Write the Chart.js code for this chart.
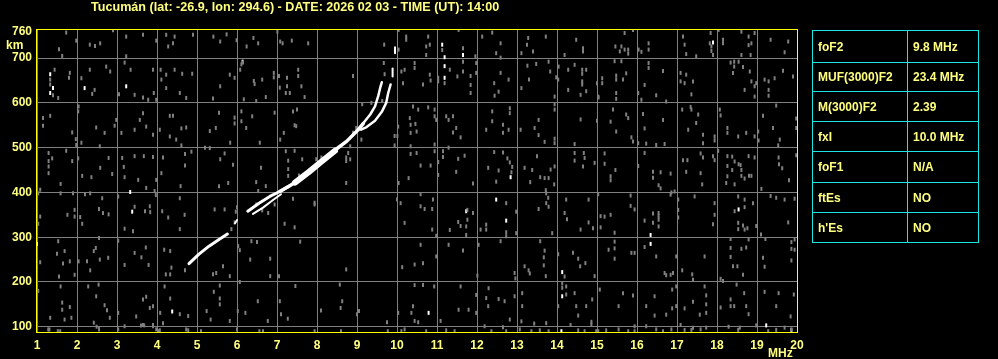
<!DOCTYPE html>
<html>
<head>
<meta charset="utf-8">
<script src="https://cdn.jsdelivr.net/npm/chart.js@4.4.1/dist/chart.umd.min.js"></script>
<style>
  html,body{margin:0;padding:0;background:#000;width:998px;height:359px;overflow:hidden;}
  #wrap{position:relative;width:998px;height:359px;}
  canvas{position:absolute;left:0;top:0;}
  table{position:absolute;left:812px;top:30px;border-collapse:collapse;
        font:bold 12px "Liberation Sans",Arial,sans-serif;color:#ffff80;}
  td{border:1px solid #18e6e6;padding:0 0 0 5px;vertical-align:middle;white-space:nowrap;box-sizing:border-box;}
  td.k{width:95px;} td.v{width:71px;}
</style>
</head>
<body>
<div id="wrap">
<canvas id="c" width="998" height="359"></canvas>
<table id="params"></table>
</div>
<script>
// ---------- data ----------
const titleText = "Tucumán (lat: -26.9, lon: 294.6) - DATE: 2026 02 03 - TIME (UT): 14:00";
const xTicks = [1,2,3,4,5,6,7,8,9,10,11,12,13,14,15,16,17,18,19,20];
const yTicks = [100,200,300,400,500,600,700,760];
const xUnit = "MHz";
const yUnit = "km";

const paramNames  = ["foF2","MUF(3000)F2","M(3000)F2","fxI","foF1","ftEs","h'Es"];
const paramValues = ["9.8 MHz","23.4 MHz","2.39","10.0 MHz","N/A","NO","NO"];

// echo traces  [frequency MHz, virtual height km]
const traceLow    = [[4.8,241],[5.05,262],[5.3,280],[5.55,295],[5.76,307]];
const traceFrag   = [[5.95,331],[6.0,338]];
const traceMidUp  = [[6.27,358],[6.55,376],[6.82,391],[7.07,402],[7.3,414]];
const traceMidLow = [[6.4,352],[6.65,366],[6.9,383],[7.1,396]];
const traceMain   = [[7.07,402],[7.3,414],[7.55,428],[7.8,446],[8.08,467],[8.41,492],[8.74,514],[9.03,540],[9.16,554]];
const traceThick  = [[7.45,422],[7.8,446],[8.1,468],[8.45,493]];
const traceO      = [[9.03,540],[9.16,555],[9.33,574],[9.45,592],[9.53,615],[9.59,637],[9.62,646]];
const traceX      = [[9.1,540],[9.24,546],[9.45,560],[9.62,580],[9.73,600],[9.78,622],[9.84,641]];
const traceXTop1  = [[9.89,659],[9.89,677]];
const traceXTop2  = [[9.95,711],[9.95,724]];

// scattered interference dots
const noiseWhite = [[1.33,664],[1.4,633],[1.33,622],[2.19,633],[3.23,637],[3.33,401],[3.38,357],[1.0,285],[4.38,134],
  [6.14,692],[11.13,730],[11.19,702],[11.19,682],[11.19,656],[11.65,707],[12.84,434],[11.73,358],[12.48,384],[12.73,337],
  [14.13,222],[14.13,168],[10.79,131],[14.11,90],[17.9,735],[18.54,362],[16.34,305],[16.34,285],[19.23,103],[19.86,93]];

const noiseGrey1 = [[1.73,757],[1.55,720],[1.63,705],[1.98,739],[2.32,730],[2.58,733],[2.9,762],[2.45,727],[3.23,748],[3.23,704],[3.65,752],[3.98,739],[4.23,752],[4.4,733],[4.44,748],[4.28,726],[4.9,752],
  [1.33,652],[1.33,641],[1.4,617],[1.53,611],[1.44,674],[1.82,667],[1.8,656],[2.11,655],[2.32,674],[2.44,629],[2.38,620],[2.83,670],[2.73,681],[3.19,690],[3.34,674],[3.44,618],[3.65,612],[3.9,674],[3.92,622],[3.98,607],[3.78,607],[3.05,619],[4.09,674],[4.23,663],[4.44,674],[4.63,665],[4.88,665],[4.57,622],[4.73,611],[4.23,633],[4.11,652],
  [1.15,566],[1.15,549],[1.33,571],[1.88,534],[1.97,519],[1.98,506],[2.04,592],[2.48,545],[2.69,533],[2.11,511],[2.57,503],[2.03,581],[2.98,562],[2.94,549],[3.11,533],[3.44,540],[3.65,577],[3.73,547],[3.9,529],[3.57,562],[4.32,571],[4.4,571],[4.61,543],[4.73,545],[4.32,525],[4.48,518],[4.61,505],[4.07,540],
  [1.29,488],[1.29,470],[1.29,458],[1.38,476],[1.73,493],[1.88,470],[1.29,443],[1.08,406],[2.03,476],[2.13,437],[2.36,434],[2.58,455],[2.79,477],[2.88,441],[3.13,477],[3.17,457],[3.44,481],[3.67,481],[3.9,479],[3.53,428],[3.98,428],[3.73,410],[3.94,403],[3.19,434],[4.15,478],[4.7,486],[4.7,460],[4.86,491],[4.11,443],[4.59,414],
  [1.03,398],[1.59,419],[1.59,398],[1.9,398],[1.76,350],[1.94,361],[1.94,346],[1.08,346],[1.03,330],[2.2,396],[2.33,398],[2.63,387],[2.55,363],[2.65,354],[2.79,351],[2.08,345],[2.13,330],[3.03,391],[3.44,368],[3.7,358],[3.82,369],[3.83,356],[3.19,319],[3.4,313],[3.97,394],[4.13,358],[4.57,387],[4.69,350],[4.28,344],[4.57,318],
  [1.08,244],[1.53,291],[1.69,269],[1.65,241],[1.82,246],[1.5,263],[1.94,216],[1.55,212],[2.25,246],[2.42,269],[2.47,276],[2.57,250],[2.78,254],[2.33,226],[2.55,298],[2.04,246],[3.19,238],[3.44,265],[3.61,255],[3.79,238],[3.72,277],[3.03,292],[4.18,272],[4.33,269],[4.36,232],[4.22,217],[4.7,226],[4.33,217],
  [1.03,180],[1.59,190],[1.63,154],[1.82,144],[1.63,138],[1.33,120],[1.69,116],[1.86,120],[1.58,90],[1.28,94],[2.28,190],[2.54,194],[2.48,168],[2.69,148],[2.75,137],[2.82,120],[2.42,109],[2.55,95],[3.03,131],[3.65,161],[3.73,167],[3.82,142],[3.9,146],[3.48,123],[3.65,104],[3.9,104],[3.19,101],[4.19,190],[4.33,163],[4.57,128],[4.78,124],[4.08,131],[4.15,108],[4.07,92],[4.78,92],
  [1.31,94],[1.52,90],[2.49,100],[2.55,94],[3.03,94],[3.6,103],[3.68,103],[3.9,101],[3.98,94],[4.04,90],[4.73,94]];

const noiseGrey2 = [[5.41,748],[5.58,737],[5.74,753],[5.99,740],[6.24,726],[6.41,745],[6.53,733],[7.01,759],[7.08,737],[7.14,733],[7.37,739],[7.78,733],[9.68,730],
  [6.15,690],[6.11,686],[5.82,663],[5.94,656],[6.08,674],[6.42,649],[6.44,642],[6.63,652],[6.92,667],[6.92,657],[7.05,660],[7.25,656],[7.25,637],[7.22,622],[7.07,634],[7.53,674],[7.53,660],[7.61,637],[7.69,613],[7.32,622],[6.48,604],[6.72,613],[6.17,608],[5.4,610],[5.58,637],[8.9,660],[9.67,689],[9.69,664],
  [5.55,578],[6.11,581],[6.11,559],[6.38,570],[5.94,567],[5.94,554],[5.47,544],[5.32,537],[6.23,544],[6.94,578],[7.4,581],[7.5,585],[7.44,550],[7.48,548],[7.17,533],[7.08,518],[6.57,511],[5.83,511],[8.9,533],[8.98,544],[9.13,597],[9.36,600],[9.63,604],[9.94,526],[9.94,505],[9.11,518],
  [5.2,500],[5.32,499],[5.69,487],[5.58,474],[5.9,462],[6.6,455],[7.22,492],[7.44,493],[7.28,471],[7.28,452],[7.63,474],[7.98,474],[8.73,478],[8.73,470],[8.83,474],[8.78,488],[8.83,503],[7.28,437],[7.55,438],[8.73,421],[8.11,478],[5.78,421],[5.55,414],[6.48,423],[6.72,414],[6.53,403],
  [5.44,362],[5.69,362],[6.0,367],[5.97,357],[5.94,333],[5.86,318],[6.94,373],[6.63,360],[6.48,373],[7.4,386],[7.94,377],[7.94,373],[6.78,354],[7.19,330],[7.44,322],
  [6.03,280],[6.07,271],[6.36,291],[6.5,289],[6.33,250],[6.83,252],[7.58,290],[8.73,228],[7.05,213],[6.83,213],[5.65,235],[5.48,220],[5.82,213],[5.4,217],
  [5.24,135],[5.34,116],[5.57,192],[5.57,163],[5.57,150],[5.42,178],[5.82,113],[6.02,135],[6.21,131],[6.07,200],[6.52,157],[6.77,113],[7.07,157],[7.1,128],[7.27,118],[7.46,191],[8.1,136],[8.57,194],[8.63,157],[8.59,142],[9.0,128],[9.05,135],[9.75,110],
  [5.1,90],[6.0,94],[6.56,90],[6.65,90],[7.94,90],[8.6,90],[9.77,90]];

const noiseGrey3 = [[10.04,763],[10.23,748],[10.23,741],[10.78,748],[10.73,726],[10.82,730],[10.04,719],[10.73,707],[11.13,718],[11.19,644],[11.65,722],[11.65,692],[11.54,763],[11.96,704],[12.13,748],[12.38,757],[12.59,733],[12.48,711],[12.59,701],[13.25,730],[13.28,745],[13.11,711],[13.72,748],[14.19,707],[14.48,741],[14.65,722],[14.65,715],[13.4,715],
  [10.19,674],[10.11,670],[10.44,689],[10.44,678],[10.82,663],[10.84,650],[10.65,641],[10.15,644],[11.03,656],[11.03,648],[11.32,674],[11.51,659],[11.65,670],[11.84,660],[11.84,640],[11.84,622],[11.98,689],[11.98,667],[12.43,644],[12.54,625],[12.44,616],[12.59,667],[12.79,652],[13.11,633],[13.26,683],[13.3,652],[13.48,687],[13.79,692],[13.83,670],[13.98,657],[14.03,652],[13.94,614],[14.04,681],[14.28,674],[14.28,629],[14.44,685],[14.63,674],[14.63,665],[14.73,674],[14.63,648],[14.63,641],[14.73,626],[14.59,618],[15.0,644],[15.04,612],
  [10.4,592],[10.53,585],[10.78,590],[10.94,585],[10.94,570],[10.32,566],[10.34,551],[10.46,553],[10.34,533],[10.49,536],[10.03,547],[10.01,526],[10.94,507],[11.23,570],[11.29,562],[11.4,570],[11.48,544],[11.4,534],[11.59,523],[10.98,562],[12.38,581],[12.38,559],[12.82,588],[12.82,577],[12.79,540],[12.23,540],[12.65,551],[12.65,533],[13.09,540],[13.44,544],[13.54,562],[13.54,528],[13.69,513],[13.94,597],[13.94,585],[13.94,520],[13.94,510],[14.59,563],[14.44,508],[15.0,560],
  [10.34,503],[10.34,486],[10.49,488],[10.59,460],[10.84,460],[11.03,468],[10.94,492],[11.15,492],[11.15,479],[11.29,500],[11.53,475],[11.48,446],[11.69,482],[11.9,420],[12.43,490],[12.28,455],[12.54,449],[12.65,489],[12.76,476],[12.82,467],[12.88,457],[12.86,445],[12.48,424],[13.19,455],[13.5,481],[13.38,450],[13.58,434],[13.69,432],[13.79,432],[13.84,451],[13.94,458],[13.93,418],[13.33,423],[14.44,488],[14.67,488],[14.69,477],[14.44,471],[14.65,458],[14.94,466],[10.04,421],[10.29,432],[11.03,439],
  [10.0,384],[10.09,376],[10.59,396],[10.59,369],[10.69,363],[10.9,384],[10.88,363],[10.19,332],[10.88,317],[11.32,316],[11.53,334],[11.59,325],[11.76,361],[11.76,339],[11.73,324],[11.73,305],[11.9,354],[12.09,317],[12.73,376],[12.23,328],[12.23,317],[12.73,311],[12.73,302],[12.98,357],[12.98,309],[13.54,363],[13.73,398],[13.78,388],[13.73,376],[13.79,368],[13.88,309],[14.23,384],[14.19,354],[14.25,340],[14.79,384],[14.79,333],[14.59,317],[14.9,320],[13.72,405],
  [10.59,283],[10.98,303],[11.29,283],[11.65,270],[10.98,257],[10.44,239],[10.65,242],[10.13,233],[12.04,283],[12.01,214],[12.59,291],[12.94,220],[12.96,208],[13.19,235],[13.29,226],[13.32,219],[13.58,291],[13.69,270],[13.67,255],[13.67,237],[13.72,213],[14.03,262],[14.19,212],[14.4,265],[14.53,252],[14.58,235],[14.71,242],[14.94,213],
  [10.44,193],[10.65,193],[10.93,190],[11.59,190],[11.98,171],[12.29,186],[12.23,164],[12.54,162],[12.69,157],[12.94,168],[13.13,175],[12.28,146],[13.13,146],[14.03,146],[14.13,197],[14.13,187],[14.23,190],[14.23,172],[14.44,175],[14.48,146],[14.73,146],[14.53,125],[14.88,161],[14.86,111],[10.4,146],[10.36,131],[10.44,113],[10.53,110],[11.09,113],[11.54,138],[11.79,138],[11.98,131],[12.82,116],[13.11,112],[13.43,107],[13.73,108],[14.34,104],[14.86,105],[10.03,131],[10.19,94],
  [10.11,90],[10.73,90],[11.23,92],[11.44,90],[12.19,101],[12.65,99],[12.36,90],[12.73,90],[13.07,94],[13.36,90],[13.57,92],[13.79,90],[14.53,92],[14.69,90],[14.98,90]];

const noiseGrey4 = [[15.69,756],[15.9,763],[15.46,726],[15.61,726],[15.69,719],[15.57,715],[15.78,719],[15.78,710],[16.04,719],[16.11,714],[16.29,733],[16.29,719],[17.15,748],[17.19,730],[17.23,709],[17.48,704],[17.84,756],[17.82,733],[17.86,726],[17.86,716],[17.9,707],[18.04,763],[18.15,741],[18.15,733],[18.61,759],[18.79,748],[18.86,733],[18.79,729],[18.94,756],[18.61,707],[18.84,707],[19.34,741],[19.78,737],[19.69,713],
  [15.44,693],[15.61,693],[15.48,661],[15.48,652],[15.65,652],[15.73,666],[15.13,655],[15.13,644],[15.03,614],[15.48,622],[15.48,609],[16.03,622],[16.29,689],[16.29,678],[16.19,640],[16.65,671],[16.48,617],[16.11,607],[16.73,603],[17.09,667],[17.23,663],[17.09,648],[17.19,644],[17.4,648],[17.36,619],[18.34,690],[18.43,692],[18.54,692],[18.43,681],[18.65,680],[18.4,667],[18.82,670],[18.86,648],[18.69,629],[18.94,637],[18.94,614],[18.98,644],[19.19,652],[19.29,648],[19.44,655],[19.29,629],[19.29,616],[19.65,672],[19.9,659],
  [15.4,585],[15.34,558],[15.48,536],[15.73,574],[15.78,566],[15.86,523],[15.9,514],[16.19,543],[16.15,575],[16.65,562],[16.48,506],[16.03,510],[16.23,509],[16.69,508],[17.13,585],[17.34,591],[17.36,585],[17.53,574],[17.48,555],[17.28,540],[17.65,529],[17.65,510],[17.94,525],[17.94,516],[18.07,585],[18.09,572],[18.26,544],[18.26,533],[18.53,525],[18.73,533],[18.94,525],[19.04,516],[19.03,536],[19.15,571],[19.4,544],[19.48,594],[19.57,518],[19.53,505],[19.98,565],[19.98,544],
  [15.19,487],[15.19,464],[15.46,450],[15.34,436],[15.34,427],[16.03,459],[16.19,488],[16.4,446],[16.4,433],[16.59,445],[16.54,416],[16.84,442],[16.59,409],[16.86,400],[17.15,472],[17.26,472],[17.23,446],[17.59,487],[17.65,478],[17.59,443],[17.63,418],[17.9,481],[18.03,493],[17.94,472],[18.26,481],[18.38,480],[18.26,459],[18.44,469],[18.38,450],[18.54,463],[18.59,461],[18.26,436],[18.23,421],[18.44,418],[18.61,450],[18.61,437],[18.69,431],[18.79,481],[18.8,437],[18.86,437],[18.94,478],[19.11,408],[19.54,478],[19.55,463],[19.63,454],[19.8,427],[19.98,483],
  [15.03,396],[15.09,347],[15.19,346],[15.34,350],[15.09,322],[15.44,310],[15.84,393],[15.84,370],[15.94,362],[16.19,337],[16.4,353],[16.4,332],[16.54,354],[16.54,347],[16.54,339],[16.54,324],[16.84,395],[16.94,402],[17.03,384],[17.03,361],[17.03,344],[17.44,391],[17.94,376],[17.94,350],[17.9,329],[18.44,358],[18.53,391],[18.69,384],[18.69,367],[18.53,332],[18.53,318],[18.69,317],[18.76,320],[18.65,326],[18.9,376],[18.98,325],[19.1,306],[19.34,392],[19.48,388],[19.69,384],[19.78,333],[19.94,386],
  [15.44,290],[15.44,275],[15.44,252],[15.29,272],[15.86,265],[15.94,265],[16.19,278],[16.48,257],[16.98,257],[16.69,220],[16.73,215],[16.84,216],[16.9,220],[17.13,226],[17.38,217],[17.4,205],[17.69,257],[18.09,207],[18.15,202],[18.34,296],[18.34,276],[18.61,274],[18.73,277],[18.79,295],[18.34,256],[18.4,235],[18.51,235],[18.65,216],[19.21,296],[19.15,254],[19.19,234],[19.86,289],[19.86,274],[19.86,248],[19.94,295],[19.94,272],
  [15.07,183],[15.65,175],[15.9,170],[15.54,146],[16.23,146],[16.44,168],[16.44,125],[16.73,127],[16.88,141],[16.88,183],[16.98,190],[16.98,146],[17.19,141],[17.4,156],[17.57,127],[17.73,170],[17.73,150],[17.73,131],[17.69,190],[18.09,143],[18.34,161],[18.34,146],[18.43,146],[18.49,194],[18.68,175],[18.73,146],[18.79,128],[19.19,178],[19.48,146],[19.54,175],[19.92,172],[19.84,123],[15.94,101],[16.23,101],[17.09,104],[17.4,98],[17.73,98],[18.29,100],[18.57,98],[18.98,103],
  [15.03,90],[15.23,92],[15.54,94],[15.78,90],[15.94,90],[16.48,94],[16.65,90],[16.86,94],[17.19,93],[17.36,93],[17.59,94],[18.53,93],[19.28,90],[19.48,93],[19.69,98],[19.86,94]];

// ---------- styles ----------
const YELLOW_TEXT = '#ffff80';
const FRAME = '#ffff00';
const GRID = '#808080';
const FONT = 'bold 12px "Liberation Sans", Arial, sans-serif';
const TITLE_FONT = 'bold 12.6px "Liberation Sans", Arial, sans-serif';

const toXY = arr => arr.map(([x,y]) => ({x, y}));

function traceDs(arr, w){
  return {type:'scatter', data: toXY(arr), showLine:true, borderColor:'#ffffff', borderWidth:w,
          pointRadius:0, fill:false, tension:0, borderCapStyle:'round', borderJoinStyle:'round', order:1};
}
function noiseDs(arr, color){
  return {type:'scatter', data: toXY(arr), pointStyle:'line', rotation:90, radius:2, pointRadius:2,
          borderColor:color, backgroundColor:color, borderWidth:2, pointHoverRadius:2, order:2};
}

const overlay = {
  id:'overlay',
  afterDraw(chart){
    const {ctx, chartArea:a} = chart;
    ctx.save();
    ctx.strokeStyle = FRAME; ctx.lineWidth = 1;
    ctx.strokeRect(Math.round(a.left)-0.5, Math.round(a.top)+0.5, Math.round(a.right-a.left)+1, Math.round(a.bottom-a.top)-1);
    ctx.fillStyle = YELLOW_TEXT;
    ctx.textBaseline = 'alphabetic';
    ctx.textAlign = 'left';
    ctx.font = TITLE_FONT;
    ctx.fillText(titleText, 91, 11);
    ctx.font = FONT;
    ctx.fillText(yUnit, 6, 49);
    ctx.fillText(xUnit, 768, 357);
    ctx.restore();
  }
};

const chart = new Chart(document.getElementById('c'), {
  type:'scatter',
  data:{ datasets:[
    noiseDs(noiseGrey1, GRID), noiseDs(noiseGrey2, GRID), noiseDs(noiseGrey3, GRID), noiseDs(noiseGrey4, GRID),
    noiseDs(noiseWhite, '#ffffff'),
    traceDs(traceLow, 3), traceDs(traceFrag, 2), traceDs(traceMidUp, 3), traceDs(traceMidLow, 2),
    traceDs(traceMain, 3.5), traceDs(traceThick, 6), traceDs(traceO, 2.5), traceDs(traceX, 2.5),
    traceDs(traceXTop1, 2), traceDs(traceXTop2, 2)
  ]},
  options:{
    responsive:false, animation:false, devicePixelRatio:1,
    layout:{padding:{top:29, right:201, left:0, bottom:0}},
    plugins:{legend:{display:false}, tooltip:{enabled:false}, title:{display:false}},
    events:[],
    scales:{
      x:{type:'linear', min:1, max:20,
         afterBuildTicks: ax => { ax.ticks = xTicks.map(v => ({value:v})); },
         afterFit: ax => { ax.height = 26; },
         grid:{color:GRID, lineWidth:1, drawTicks:false},
         border:{display:false},
         ticks:{color:YELLOW_TEXT, font:{family:'"Liberation Sans", Arial, sans-serif', size:12, weight:'bold'},
                padding:5, maxRotation:0, autoSkip:false, callback:v => String(v)}},
      y:{type:'linear', min:86, max:765,
         afterBuildTicks: ax => { ax.ticks = yTicks.map(v => ({value:v})); },
         afterFit: ax => { ax.width = 37; },
         grid:{color: c => (c.tick && c.tick.value === 760) ? 'rgba(0,0,0,0)' : GRID, lineWidth:1, drawTicks:false},
         border:{display:false},
         ticks:{color:YELLOW_TEXT, font:{family:'"Liberation Sans", Arial, sans-serif', size:12, weight:'bold'},
                padding:5, autoSkip:false, callback:v => String(v)}}
    }
  },
  plugins:[overlay]
});

// parameter table
const tbl = document.getElementById('params');
const rowH = [32,29,30,30,31,30,30];
paramNames.forEach((n,i) => {
  const tr = document.createElement('tr');
  tr.style.height = rowH[i] + 'px';
  const a = document.createElement('td'); a.className='k'; a.textContent = n;
  const b = document.createElement('td'); b.className='v'; b.textContent = paramValues[i];
  tr.appendChild(a); tr.appendChild(b); tbl.appendChild(tr);
});
</script>
</body>
</html>
